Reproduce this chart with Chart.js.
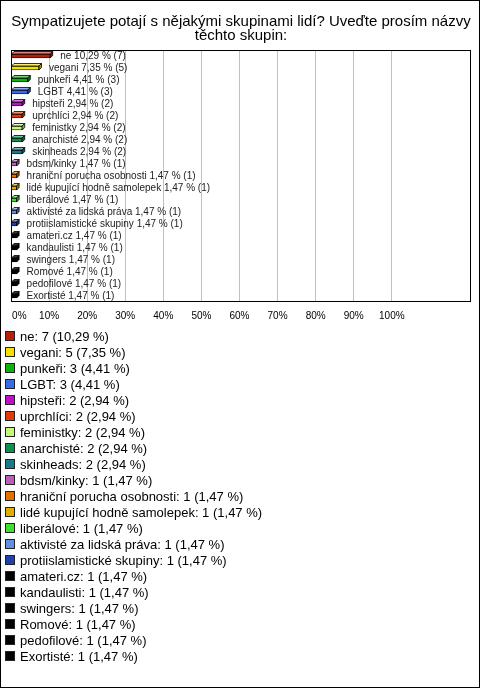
<!DOCTYPE html>
<html>
<head>
<meta charset="utf-8">
<script src="https://cdn.jsdelivr.net/npm/chart.js@4"></script>
<style>
    body { margin: 0; background: #fff; font-family: 'Liberation Sans', Arial, sans-serif; }
    #frame { position: absolute; left: 0; top: 0; width: 480px; height: 688px; box-sizing: border-box; border: 1px solid #000; pointer-events: none; }
    #chartBox { position: absolute; left: 0; top: 0; width: 480px; height: 330px; }
    #legend { position: absolute; left: 5px; top: 329px; font-size: 13px; line-height: 16px; color: #000; }
    #legend div { white-space: nowrap; height: 16px; }
    #legend span.box { display: inline-block; width: 8px; height: 8px; border: 1px solid #222; margin-right: 5px; vertical-align: -0px; }
</style>
</head>
<body>
<div id="chartBox"><canvas id="myBarChart"></canvas></div>
<div id="legend"></div>
<div id="frame"></div>
<script>
const title = ['Sympatizujete potají s nějakými skupinami lidí? Uveďte prosím názvy', 'těchto skupin:'];
const categories = ['ne', 'vegani', 'punkeři', 'LGBT', 'hipsteři', 'uprchlíci', 'feministky', 'anarchisté', 'skinheads',
    'bdsm/kinky', 'hraniční porucha osobnosti', 'lidé kupující hodně samolepek', 'liberálové', 'aktivisté za lidská práva',
    'protiislamistické skupiny', 'amateri.cz', 'kandaulisti', 'swingers', 'Romové', 'pedofilové', 'Exortisté'];
const counts = [7, 5, 3, 3, 2, 2, 2, 2, 2, 1, 1, 1, 1, 1, 1, 1, 1, 1, 1, 1, 1];
const percents = [10.29, 7.35, 4.41, 4.41, 2.94, 2.94, 2.94, 2.94, 2.94, 1.47, 1.47, 1.47, 1.47, 1.47, 1.47, 1.47, 1.47, 1.47, 1.47, 1.47, 1.47];
const colors = ['#b5200d', '#f5e000', '#10b010', '#3a6ae8', '#c010c8', '#e03a0a', '#c8f878', '#0f8f4f', '#1a7a88',
    '#b860b8', '#e07000', '#e0b000', '#40e030', '#6090e0', '#2040b0', '#000000', '#000000', '#000000', '#000000', '#000000', '#000000'];
const xTicks = [0, 10, 20, 30, 40, 50, 60, 70, 80, 90, 100];

function fmt(v) {
    return v.toFixed(2).replace('.', ',');
}

// mix a hex colour with white (t > 0) or black (t < 0)
function shade(hex, t) {
    let r = parseInt(hex.substr(1, 2), 16), g = parseInt(hex.substr(3, 2), 16), b = parseInt(hex.substr(5, 2), 16);
    const target = t > 0 ? 255 : 0;
    const k = Math.abs(t);
    r = Math.round(r + (target - r) * k);
    g = Math.round(g + (target - g) * k);
    b = Math.round(b + (target - b) * k);
    return 'rgb(' + r + ',' + g + ',' + b + ')';
}

// 3d faces, value labels and the frame round the plot
const bar3d = {
    id: 'bar3d',
    afterDatasetsDraw(chart) {
        const c = chart.ctx;
        const meta = chart.getDatasetMeta(0);
        const d = 2.5;
        c.save();
        c.lineWidth = 0.8;
        c.strokeStyle = '#000';
        meta.data.forEach((bar, i) => {
            const x0 = bar.base, x1 = bar.x;
            const yT = bar.y - bar.height / 2, yB = bar.y + bar.height / 2;
            // top face
            c.beginPath();
            c.moveTo(x0, yT);
            c.lineTo(x0 + d, yT - d);
            c.lineTo(x1 + d, yT - d);
            c.lineTo(x1, yT);
            c.closePath();
            c.fillStyle = shade(colors[i], colors[i] == '#000000' ? 0.2 : 0.45);
            c.fill();
            c.stroke();
            // side face
            c.beginPath();
            c.moveTo(x1, yT);
            c.lineTo(x1 + d, yT - d);
            c.lineTo(x1 + d, yB - d);
            c.lineTo(x1, yB);
            c.closePath();
            c.fillStyle = shade(colors[i], -0.3);
            c.fill();
            c.stroke();
            // label
            c.fillStyle = '#222';
            c.font = '10px "Liberation Sans", Arial, sans-serif';
            c.textBaseline = 'middle';
            c.textAlign = 'left';
            c.fillText(categories[i] + ' ' + fmt(percents[i]) + ' % (' + counts[i] + ')', x1 + 10, bar.y);
        });
        const a = chart.chartArea;
        c.lineWidth = 1;
        c.strokeStyle = '#000';
        c.strokeRect(Math.round(a.left) + 0.5, Math.round(a.top) + 0.5, Math.round(a.right - a.left) - 1, Math.round(a.bottom - a.top) - 1);
        c.restore();
    }
};

window.onload = function () {
    const ctx = document.getElementById('myBarChart');

    new Chart(ctx, {
        type: 'bar',
        data: {
            labels: categories,
            datasets: [{
                data: percents,
                backgroundColor: colors,
                borderColor: '#000',
                borderWidth: 0.8,
                barThickness: 4
            }]
        },
        options: {
            indexAxis: 'y',
            responsive: true,
            maintainAspectRatio: false,
            animation: false,
            layout: {
                padding: { left: 11, right: 9, top: 0, bottom: 0 }
            },
            plugins: {
                legend: { display: false },
                tooltip: { enabled: false },
                title: {
                    display: true,
                    text: title,
                    color: '#000',
                    font: { family: '"Liberation Sans", Arial, sans-serif', size: 15, weight: 'normal', lineHeight: '14px' },
                    padding: { top: 15, bottom: 7 }
                }
            },
            scales: {
                y: {
                    display: false
                },
                x: {
                    min: 0,
                    max: 120.8,
                    afterBuildTicks: (scale) => {
                        scale.ticks = xTicks.map((v) => ({ value: v }));
                    },
                    afterFit: (scale) => {
                        scale.height = 28;
                        scale.paddingLeft = 0;
                        scale.paddingRight = 0;
                    },
                    grid: {
                        color: '#c0c0c0',
                        drawTicks: false
                    },
                    border: { display: false },
                    ticks: {
                        padding: 8,
                        maxRotation: 0,
                        color: '#000',
                        font: { family: '"Liberation Sans", Arial, sans-serif', size: 10 },
                        // first label sits inside the frame, as in the original
                        callback: (v) => (v === 0 ? '      0%' : v + '%')
                    }
                }
            }
        },
        plugins: [bar3d]
    });

    // legend rows
    const legend = document.getElementById('legend');
    categories.forEach((name, i) => {
        const row = document.createElement('div');
        const box = document.createElement('span');
        box.className = 'box';
        box.style.background = colors[i];
        row.appendChild(box);
        row.appendChild(document.createTextNode(name + ': ' + counts[i] + ' (' + fmt(percents[i]) + ' %)'));
        legend.appendChild(row);
    });
};
</script>
</body>
</html>
